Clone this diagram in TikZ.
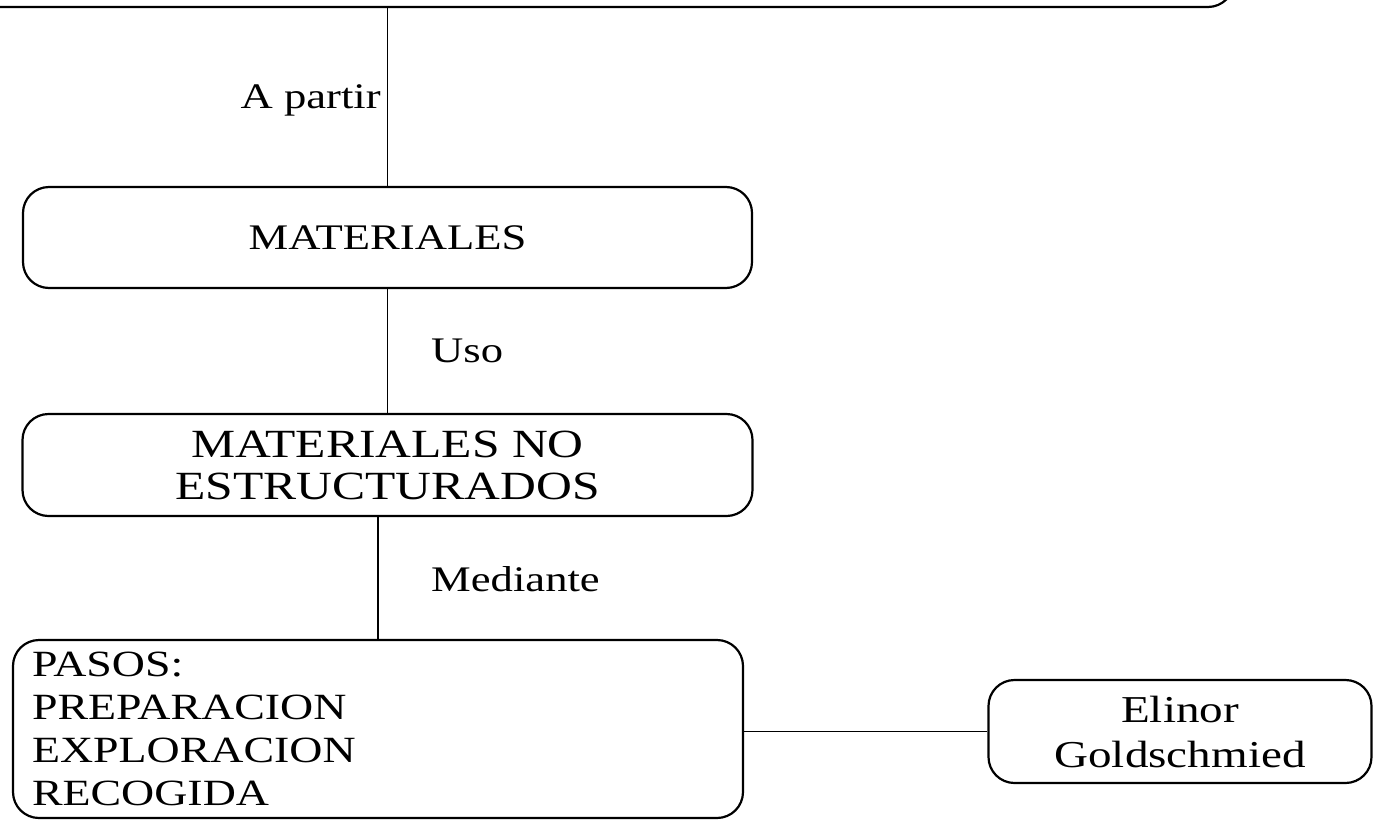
\documentclass[tikz,border=0pt]{standalone}
\usepackage{fontspec}
\setmainfont{Liberation Serif}[FakeStretch=1.24]
\begin{document}
\begin{tikzpicture}[x=1pt,y=-1pt,
  box/.style={draw, line width=2.2pt, rounded corners=26pt, inner sep=0pt,
    font=\fontsize{36}{43}\selectfont, align=center},
  conn/.style={line width=1.8pt},
  lbl/.style={font=\fontsize{36}{43}\selectfont, inner sep=0pt}]
\useasboundingbox (0,0) rectangle (1376,822);
\clip (0,0) rectangle (1376,822);
\node[box, minimum width=1274pt, minimum height=127pt] (top) at (597,-56.5) {};
\node[box, minimum width=729pt, minimum height=101pt] (mat) at (387.5,237.5) {MATERIALES};
\node[box, minimum width=730pt, minimum height=102pt, font=\fontsize{40}{42}\selectfont] (mno) at (387.5,465) {MATERIALES NO\\ESTRUCTURADOS};
\node[box, minimum width=730pt, minimum height=178pt, text width=692pt, align=left, font=\fontsize{37}{43}\selectfont] (pasos) at (378,729) {PASOS:\\PREPARACION\\EXPLORACION\\RECOGIDA};
\node[box, minimum width=383pt, minimum height=103pt, font=\fontsize{38}{45}\selectfont] (eli) at (1180,731.5) {Elinor\\Goldschmied};
\draw[conn] (mat.north) -- (mat.north |- top.south);
\draw[conn] (mat.south) -- (mat.south |- mno.north);
\draw[conn] (pasos.north |- mno.south) -- (pasos.north);
\draw[conn] (eli.west) -- (eli.west -| pasos.east);
\node[lbl, anchor=base east] (l1) at (381,108) {A partir};
\node[lbl, anchor=base west] (l2) at (431,362) {Uso};
\node[lbl, anchor=base west] (l3) at (431,591) {Mediante};
\end{tikzpicture}
\end{document}
